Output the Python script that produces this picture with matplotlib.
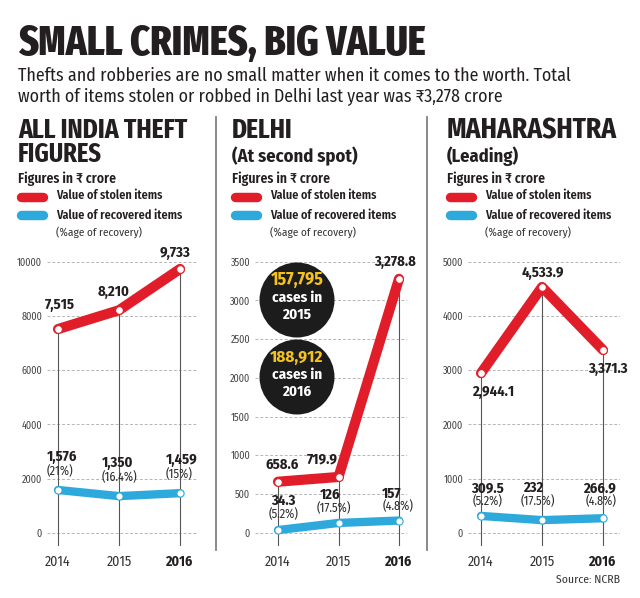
import matplotlib
matplotlib.use('Agg')
import matplotlib.pyplot as plt
from matplotlib import font_manager as fm
from matplotlib.lines import Line2D
from matplotlib.patches import Circle

# ---------------- data ----------------
years = [2014, 2015, 2016]
year_labels = ['2014', '2015', '2016']

india_stolen = [7515, 8210, 9733]
india_stolen_labels = ['7,515', '8,210', '9,733']
india_recovered = [1576, 1350, 1459]
india_recovered_labels = ['1,576', '1,350', '1,459']
india_pct = ['(21%)', '(16.4%)', '(15%)']
india_ticks = [0, 2000, 4000, 6000, 8000, 10000]

delhi_stolen = [658.6, 719.9, 3278.8]
delhi_stolen_labels = ['658.6', '719.9', '3,278.8']
delhi_recovered = [34.3, 126, 157]
delhi_recovered_labels = ['34.3', '126', '157']
delhi_pct = ['(5.2%)', '(17.5%)', '(4.8%)']
delhi_ticks = [0, 500, 1000, 1500, 2000, 2500, 3000, 3500]

maha_stolen = [2944.1, 4533.9, 3371.3]
maha_stolen_labels = ['2,944.1', '4,533.9', '3,371.3']
maha_recovered = [309.5, 232, 266.9]
maha_recovered_labels = ['309.5', '232', '266.9']
maha_pct = ['(5.2%)', '(17.5%)', '(4.8%)']
maha_ticks = [0, 1000, 2000, 3000, 4000, 5000]

delhi_cases = ['157,795', '188,912']
delhi_case_years = ['2015', '2016']

# ---------------- fonts ----------------
names = {f.name for f in fm.fontManager.ttflist}
def pick(cands):
    for c in cands:
        if c in names:
            return c
    return 'DejaVu Sans'

F_TITLE = pick(['Fira Sans Extra Condensed', 'Barlow Condensed', 'Roboto Condensed', 'Archivo Narrow'])
F_COND = pick(['Fira Sans Condensed', 'Roboto Condensed', 'Barlow Semi Condensed', 'Archivo Narrow', 'Asap Condensed'])

def fam(f):
    return [f, 'Noto Sans', 'DejaVu Sans']

W, H = 640, 598
RED = '#e21d2a'
BLUE = '#2ea9db'
TXT = '#231f20'

fig = plt.figure(figsize=(W / 100, H / 100), dpi=100)
fig.patch.set_facecolor('white')
renderer = fig.canvas.get_renderer()


def T(x, y, s, size, family=None, weight='normal', color=TXT, width=None,
      ha='left', va='baseline', cap=1.12):
    t = fig.text(x / W, 1 - y / H, s, fontsize=size, family=fam(family or F_COND),
                 weight=weight, color=color, ha=ha, va=va)
    if width:
        w = t.get_window_extent(renderer).width
        if w > 0:
            t.set_fontsize(min(size * cap, size * width / w))
    return t

# title & subtitle
T(18, 55, 'SMALL CRIMES, BIG VALUE', 30, F_TITLE, weight='heavy', width=407)
T(18, 81, 'Thefts and robberies are no small matter when it comes to the worth. Total',
  14, F_COND, weight='normal', width=554)
T(18, 102, 'worth of items stolen or robbed in Delhi last year was \u20b93,278 crore',
  14, F_COND, weight='normal', width=485)

# separators
for sx in (216, 427):
    fig.add_artist(Line2D([sx / W, sx / W], [1 - 117 / H, 1 - 550 / H],
                          color='#808080', lw=1.3))

# panel headers
panels = [
    dict(x0=18, h1='ALL INDIA THEFT', w1=170, h2='FIGURES', w2=88, f2=F_TITLE),
    dict(x0=232, h1='DELHI', w1=61, h2='(At second spot)', w2=125, f2=F_COND),
    dict(x0=447, h1='MAHARASHTRA', w1=171, h2='(Leading)', w2=72, f2=F_COND),
]
for p in panels:
    x0 = p['x0']
    T(x0, 138, p['h1'], 19, F_TITLE, weight='bold', width=p['w1'])
    T(x0, 162, p['h2'], 17, p['f2'], weight='bold', width=p['w2'])
    T(x0, 183, 'Figures in \u20b9 crore', 11, F_COND, weight='semibold', width=98)
    for yy, col in ((196.5, RED), (215.5, BLUE)):
        fig.add_artist(Line2D([(x0 + 2.5) / W, (x0 + 25) / W], [1 - yy / H, 1 - yy / H],
                              color=col, lw=6.8, solid_capstyle='round'))
    T(x0 + 38, 195, 'Value of stolen items', 9.5, F_COND, weight='semibold', width=107, va='center')
    T(x0 + 38, 215, 'Value of recovered items', 9.5, F_COND, weight='semibold', width=127, va='center')
    T(x0 + 38, 232, '(%age of recovery)', 8.5, F_COND, weight='normal', width=87, va='center',
      color='#333333')

# ---------------- charts ----------------
TOP, ZERO, BOT = 261.7, 532.7, 546.0

charts = [
    dict(l=47, r=198, x14=58, x16=180, ticks=india_ticks,
         stolen=india_stolen, sl=india_stolen_labels,
         rec=india_recovered, rl=india_recovered_labels, pct=india_pct,
         soff=[(2, 24), (-5, 18), (-5, 16)],
         roff=[(4, 33), (-1, 33), (2, 33)], poff=[(2, 19), (0, 19), (-1, 19)]),
    dict(l=255, r=407, x14=278, x16=399, ticks=delhi_ticks,
         stolen=delhi_stolen, sl=delhi_stolen_labels,
         rec=delhi_recovered, rl=delhi_recovered_labels, pct=delhi_pct,
         soff=[(4, 17), (-16, 18), (-4, 17)],
         roff=[(5, 29), (-8, 28), (-7, 27)], poff=[(6, 16), (-5, 15), (-1, 14)]),
    dict(l=468, r=620, x14=481, x16=603, ticks=maha_ticks,
         stolen=maha_stolen, sl=maha_stolen_labels,
         rec=maha_recovered, rl=maha_recovered_labels, pct=maha_pct,
         soff=[(12, -19), (1, 14), (5, -19)],
         roff=[(7, 28), (-9, 32), (-3, 30)], poff=[(7, 15), (-4, 19), (-2, 17)]),
]

for c in charts:
    ax = fig.add_axes([c['l'] / W, 1 - BOT / H, (c['r'] - c['l']) / W, (BOT - TOP) / H])
    ppy = (c['x16'] - c['x14']) / 2.0
    ax.set_xlim(years[0] - (c['x14'] - c['l']) / ppy, years[-1] + (c['r'] - c['x16']) / ppy)
    ymax = c['ticks'][-1]
    ax.set_ylim(-ymax * (BOT - ZERO) / (ZERO - TOP), ymax)
    for s in ax.spines.values():
        s.set_visible(False)
    ax.set_facecolor('none')
    ax.set_yticks(c['ticks'])
    ax.set_yticklabels([str(t) for t in c['ticks']])
    ax.tick_params(axis='y', length=0, pad=3.5, labelsize=7.3, labelcolor='#444444')
    for lab in ax.get_yticklabels():
        lab.set_family(fam(F_COND))
    ax.set_xticks(years)
    ax.set_xticklabels(year_labels)
    ax.tick_params(axis='x', length=0, pad=6.5, labelsize=10, labelcolor='#333333')
    for i, lab in enumerate(ax.get_xticklabels()):
        lab.set_family(fam(F_COND))
        if i == len(years) - 1:
            lab.set_weight('bold')
            lab.set_color(TXT)
    for t in c['ticks']:
        ax.axhline(t, color='#b5b5b5', lw=0.7, ls=(0, (3, 2)), zorder=0)
    ax.vlines(years, ax.get_ylim()[0], c['stolen'], color='#555555', lw=0.8, zorder=1)
    ax.plot(years, c['rec'], color=BLUE, lw=6.0, solid_capstyle='round',
            solid_joinstyle='round', zorder=2, marker='o', ms=5.2,
            mfc='white', mec=BLUE, mew=0.8, clip_on=False)
    ax.plot(years, c['stolen'], color=RED, lw=7.3, solid_capstyle='round',
            solid_joinstyle='round', zorder=3, marker='o', ms=5.6,
            mfc='white', mec=RED, mew=0.8, clip_on=False)
    for xv, yv, lab, off in zip(years, c['stolen'], c['sl'], c['soff']):
        ax.annotate(lab, (xv, yv), xytext=off, textcoords='offset pixels',
                    ha='center', va='center', fontsize=10.5, weight='bold',
                    color=TXT, family=fam(F_COND), annotation_clip=False, zorder=5)
    for xv, yv, lab, off in zip(years, c['rec'], c['rl'], c['roff']):
        ax.annotate(lab, (xv, yv), xytext=off, textcoords='offset pixels',
                    ha='center', va='center', fontsize=10.5, weight='bold',
                    color=TXT, family=fam(F_COND), annotation_clip=False, zorder=5)
    for xv, yv, lab, off in zip(years, c['rec'], c['pct'], c['poff']):
        ax.annotate(lab, (xv, yv), xytext=off, textcoords='offset pixels',
                    ha='center', va='center', fontsize=8.8, weight='normal',
                    color='#2a2a2a', family=fam(F_COND), annotation_clip=False, zorder=5)

# Delhi case bubbles
for (cy, num, yr) in zip((300, 377), delhi_cases, delhi_case_years):
    fig.add_artist(Circle((297 / 100, (H - cy) / 100), 0.375, transform=fig.dpi_scale_trans,
                          facecolor='#1c1c1c', edgecolor='none', zorder=6))
    for dy, s, col, w in ((-20, num, '#f6c21c', 53), (-2, 'cases in', 'white', 50), (15, yr, 'white', 29)):
        t = T(297, cy + dy, s, 12.5, F_COND, weight='bold', color=col, width=w, ha='center', va='center')
        t.set_zorder(7)

T(620, 580, 'Source: NCRB', 9, F_COND, weight='normal', width=64, ha='right', va='center', color='#333333')

fig.savefig('out.png', dpi=100, facecolor='white')
